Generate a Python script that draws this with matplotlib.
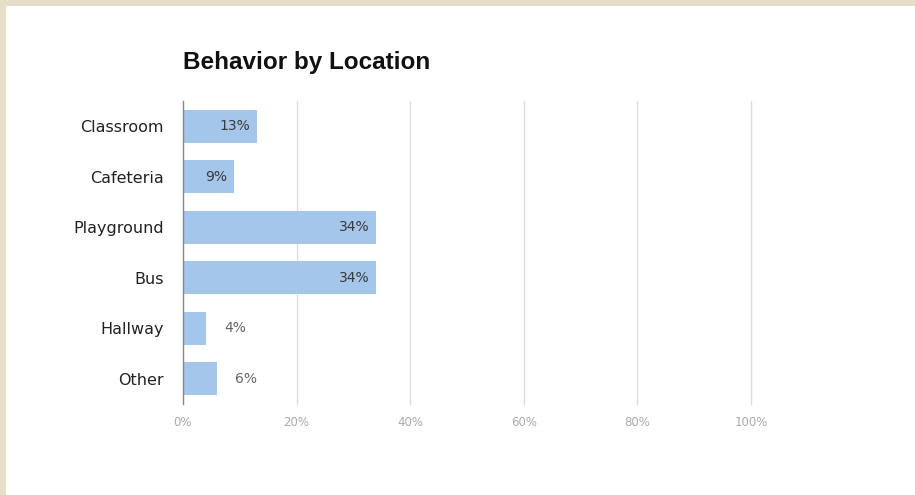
import matplotlib
matplotlib.use("Agg")
import matplotlib.pyplot as plt
from matplotlib.patches import Rectangle

categories = ["Classroom", "Cafeteria", "Playground", "Bus", "Hallway", "Other"]
values = [13, 9, 34, 34, 4, 6]
xticks = [0, 20, 40, 60, 80, 100]
xtick_labels = ["0%", "20%", "40%", "60%", "80%", "100%"]
title = "Behavior by Location"

W, H = 915, 495
fig = plt.figure(figsize=(W / 100, H / 100), dpi=100)
fig.patch.set_facecolor("#e6dec6")
fig.patches.append(Rectangle((6 / W, 0), 1 - 6 / W, 1 - 6 / H, transform=fig.transFigure,
                             facecolor="white", edgecolor="none", zorder=-10))

left, right = 183 / W, 751 / W
top, bottom = 1 - 101 / H, 1 - 404 / H
ax = fig.add_axes([left, bottom, right - left, top - bottom])
ax.set_facecolor("none")

y = list(range(len(categories)))
ax.barh(y, values, height=0.66, color="#a3c6ea", zorder=2)
ax.set_ylim(len(categories) - 0.5, -0.5)
ax.set_xlim(0, 100)

for yi, v in zip(y, values):
    if v >= 8:
        ax.text(v - 1.2, yi, f"{v}%", ha="right", va="center", fontsize=10,
                color="#3a3a3a", zorder=3)
    else:
        ax.text(v + 3.2, yi, f"{v}%", ha="left", va="center", fontsize=10,
                color="#666666", zorder=3)

ax.set_xticks(xticks)
ax.set_xticklabels(xtick_labels, fontsize=8.5, color="#aaaaaa")
ax.set_yticks(y)
ax.set_yticklabels(categories, fontsize=11.5, color="#222222")
ax.tick_params(axis="x", length=0, pad=9)
ax.tick_params(axis="y", length=0, pad=13.7)
for g in xticks[1:]:
    ax.axvline(g, color="#dddddd", lw=1, zorder=1, clip_on=False)
for s in ["top", "right", "bottom"]:
    ax.spines[s].set_visible(False)
ax.spines["left"].set_color("#888888")
ax.spines["left"].set_linewidth(1)
ax.spines["left"].set_zorder(4)

fig.text(183 / W, 1 - 63 / H, title, ha="left", va="center", fontsize=17.5,
         fontweight="bold", color="#111111", family="Liberation Sans")

fig.savefig("out.png", dpi=100, facecolor=fig.get_facecolor())
